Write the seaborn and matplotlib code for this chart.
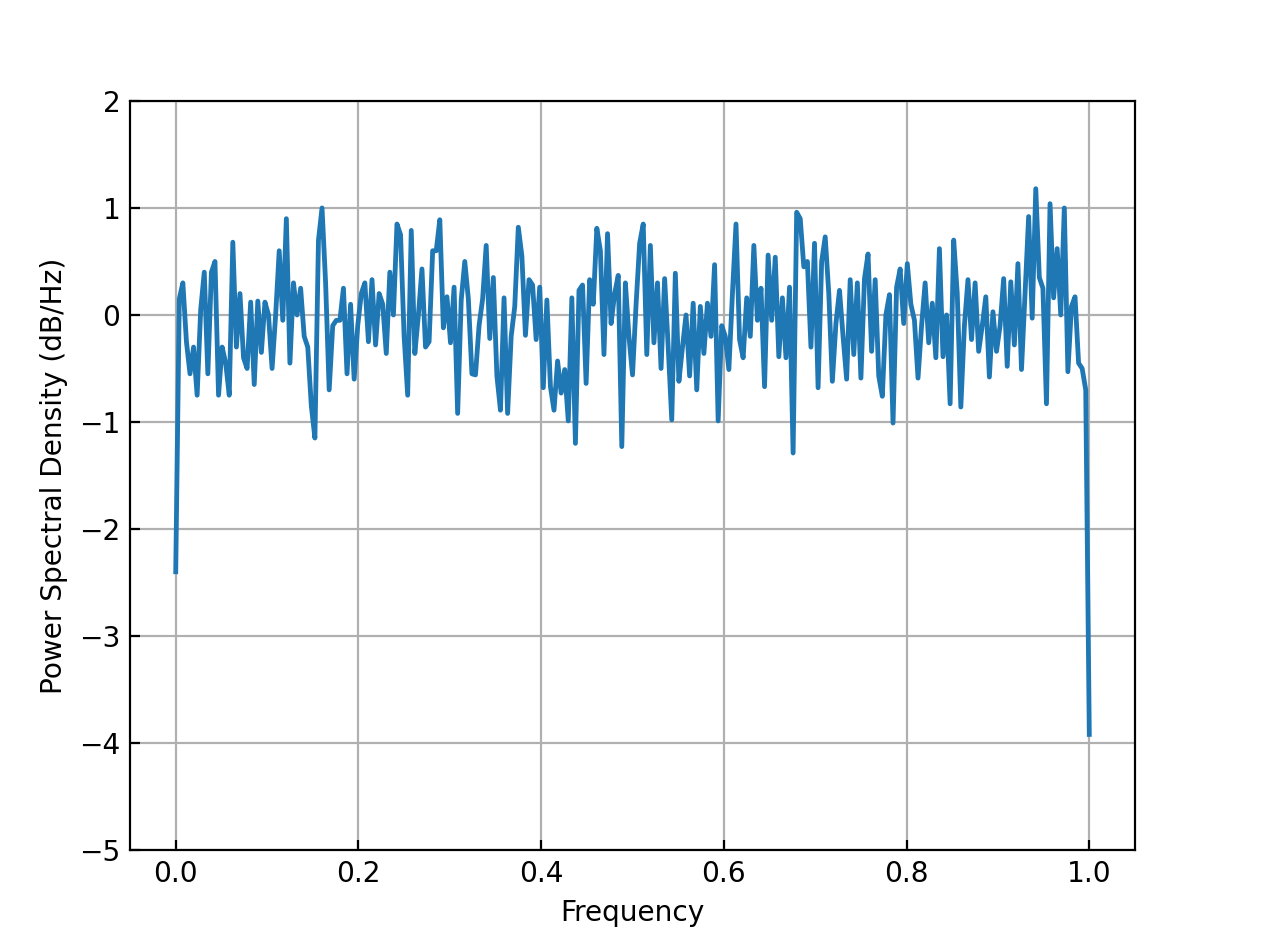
import numpy as np
import matplotlib
matplotlib.use("Agg")
import matplotlib.pyplot as plt
import seaborn as sns

# PSD values (dB/Hz), evenly spaced from 0 to 1
psd_db = np.array([
    -2.4, 0.15, 0.3, -0.25, -0.55, -0.3, -0.75, 0.05, 0.4, -0.55,
    0.4, 0.5, -0.75, -0.3, -0.45, -0.75, 0.68, -0.3, 0.2, -0.4,
    -0.5, 0.12, -0.65, 0.13, -0.35, 0.12, 0.0, -0.5, 0.0, 0.6,
    -0.05, 0.9, -0.45, 0.3, 0.0, 0.25, -0.2, -0.3, -0.85, -1.15,
    0.7, 1.0, 0.3, -0.7, -0.1, -0.05, -0.05, 0.25, -0.55, 0.1,
    -0.6, -0.1, 0.2, 0.3, -0.25, 0.33, -0.28, 0.2, 0.1, -0.36,
    0.4, 0.0, 0.85, 0.75, -0.2, -0.75, 0.79, -0.36, 0.0, 0.43,
    -0.3, -0.25, 0.6, 0.6, 0.89, -0.12, 0.17, -0.26, 0.26, -0.92,
    0.14, 0.5, 0.15, -0.55, -0.56, -0.1, 0.15, 0.65, -0.22, 0.35,
    -0.57, -0.89, 0.16, -0.92, -0.2, 0.08, 0.82, 0.55, -0.19, 0.33,
    0.28, -0.23, 0.26, -0.68, 0.14, -0.67, -0.89, -0.43, -0.73, -0.51,
    -0.99, 0.16, -1.2, 0.23, 0.28, -0.64, 0.33, 0.1, 0.81, 0.6,
    -0.37, 0.76, -0.08, 0.2, 0.37, -1.23, 0.3, -0.2, -0.56, 0.1,
    0.67, 0.85, -0.37, 0.65, -0.26, 0.3, -0.5, 0.34, -0.3, -0.98,
    0.39, -0.62, -0.3, 0.0, -0.57, 0.11, -0.7, 0.08, -0.36, 0.11,
    -0.2, 0.47, -0.99, -0.1, -0.2, -0.51, 0.2, 0.85, -0.23, -0.4,
    0.16, -0.2, 0.65, -0.05, 0.25, -0.67, 0.56, -0.05, 0.54, -0.39,
    0.16, -0.4, 0.26, -1.29, 0.96, 0.9, 0.45, 0.5, -0.3, 0.67,
    -0.68, 0.5, 0.73, 0.2, -0.62, -0.08, 0.23, -0.2, -0.6, 0.33,
    -0.37, 0.3, -0.59, 0.34, 0.57, -0.34, 0.33, -0.57, -0.76, 0.0,
    0.19, -1.01, 0.26, 0.43, -0.08, 0.48, 0.1, -0.05, -0.59, -0.1,
    0.3, -0.26, 0.11, -0.4, 0.62, -0.39, 0.0, -0.83, 0.7, 0.2,
    -0.86, -0.1, 0.33, -0.23, 0.3, -0.34, -0.1, 0.17, -0.58, 0.03,
    -0.34, -0.1, 0.34, -0.48, 0.31, -0.28, 0.48, -0.51, 0.2, 0.92,
    -0.03, 1.18, 0.35, 0.25, -0.83, 1.04, 0.16, 0.62, 0.0, 1.0,
    -0.53, 0.08, 0.17, -0.45, -0.5, -0.7, -3.92,
])
freqs = np.linspace(0.0, 1.0, len(psd_db))

xticks = [0.0, 0.2, 0.4, 0.6, 0.8, 1.0]
yticks = [-5, -4, -3, -2, -1, 0, 1, 2]

plt.rcParams["font.size"] = 10.2

fig = plt.figure(figsize=(6.4, 4.7155), dpi=197.66)
ax = fig.add_subplot(111)
fig.subplots_adjust(left=0.1028, right=0.8972, bottom=0.088, top=0.8916)

sns.lineplot(x=freqs, y=psd_db, ax=ax, color="#1f77b4", linewidth=1.75,
             estimator=None, sort=False)

ax.set_xlim(-0.05, 1.05)
ax.set_ylim(-5, 2)
ax.set_xticks(xticks)
ax.set_yticks(yticks)
ax.tick_params(direction="in")
ax.grid(True)
ax.set_xlabel("Frequency")
ax.set_ylabel("Power Spectral Density (dB/Hz)")

fig.savefig("out.png", dpi=197.66)
